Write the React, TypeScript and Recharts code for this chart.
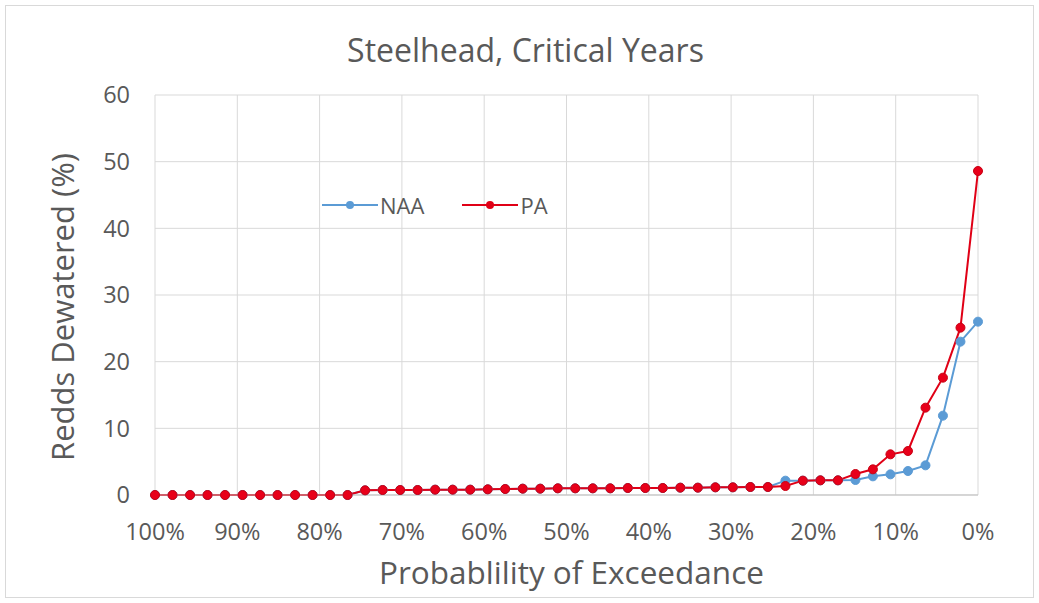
import { LineChart, Line, XAxis, YAxis, CartesianGrid, Legend } from "recharts";

// exceedance probability (%) for each ranked year, 100% down to 0%
const exceedance = [
  100, 97.87, 95.74, 93.62, 91.49, 89.36, 87.23, 85.11, 82.98, 80.85, 78.72, 76.6,
  74.47, 72.34, 70.21, 68.09, 65.96, 63.83, 61.7, 59.57, 57.45, 55.32, 53.19, 51.06,
  48.94, 46.81, 44.68, 42.55, 40.43, 38.3, 36.17, 34.04, 31.91, 29.79, 27.66, 25.53,
  23.4, 21.28, 19.15, 17.02, 14.89, 12.77, 10.64, 8.51, 6.38, 4.26, 2.13, 0,
];

const naa = [
  0, 0, 0, 0, 0, 0, 0, 0, 0, 0, 0, 0,
  0.7, 0.75, 0.75, 0.75, 0.8, 0.8, 0.8, 0.85, 0.9, 0.95, 0.95, 1.0,
  1.0, 1.0, 1.0, 1.05, 1.05, 1.05, 1.1, 1.1, 1.15, 1.15, 1.2, 1.2,
  2.15, 2.15, 2.2, 2.2, 2.25, 2.8, 3.1, 3.6, 4.45, 11.9, 23.0, 26.0,
];

const pa = [
  0, 0, 0, 0, 0, 0, 0, 0, 0, 0, 0, 0,
  0.7, 0.75, 0.75, 0.75, 0.8, 0.8, 0.8, 0.85, 0.9, 0.95, 0.95, 1.0,
  1.0, 1.0, 1.0, 1.05, 1.05, 1.05, 1.1, 1.1, 1.15, 1.15, 1.2, 1.2,
  1.35, 2.15, 2.2, 2.2, 3.15, 3.85, 6.1, 6.6, 13.1, 17.6, 25.1, 48.6,
];

const xTicks = [100, 90, 80, 70, 60, 50, 40, 30, 20, 10, 0];
const yTicks = [0, 10, 20, 30, 40, 50, 60];

const data = exceedance.map((p, i) => ({ p, NAA: naa[i], PA: pa[i] }));

const FONT = "'Open Sans', 'DejaVu Sans', sans-serif";
const TEXT = "#595959";

const LegendBox = ({ payload }: any) => (
  <div style={{ display: "flex", gap: 38, fontFamily: FONT, fontSize: 22, color: TEXT }}>
    {(payload || []).map((item: any) => (
      <div key={item.value} style={{ display: "flex", alignItems: "center" }}>
        <svg width={56} height={14}>
          <line x1={0} y1={7} x2={56} y2={7} stroke={item.color} strokeWidth={2} />
          <circle cx={28} cy={7} r={4} fill={item.color} />
        </svg>
        <span style={{ marginLeft: 2 }}>{item.value}</span>
      </div>
    ))}
  </div>
);

export default function App() {
  return (
    <div style={{ position: "absolute", left: 0, top: 0, width: 1039, height: 603, background: "#fff" }}>
      <div
        style={{
          position: "absolute", left: 5, top: 5, width: 1027, height: 591,
          border: "1px solid #d9d9d9",
        }}
      />
      <div
        style={{
          position: "absolute", left: 6, width: 1039, top: 28, textAlign: "center",
          fontFamily: FONT, fontSize: 32, color: TEXT,
        }}
      >
        Steelhead, Critical Years
      </div>
      <div
        style={{
          position: "absolute", left: 160, width: 823, top: 550, textAlign: "center",
          fontFamily: FONT, fontSize: 31.5, color: TEXT,
        }}
      >
        Probablility of Exceedance
      </div>
      <div
        style={{
          position: "absolute", left: 62, top: 307, width: 400, textAlign: "center",
          fontFamily: FONT, fontSize: 31, color: TEXT, whiteSpace: "nowrap",
          transform: "translate(-50%, -50%) rotate(-90deg)",
        }}
      >
        Redds Dewatered (%)
      </div>
      <LineChart
        width={1039}
        height={603}
        data={data}
        margin={{ top: 95, right: 61, bottom: 78, left: 95 }}
        style={{ position: "absolute", left: 0, top: 0 }}
      >
        <CartesianGrid stroke="#d9d9d9" strokeWidth={1} />
        <XAxis
          dataKey="p"
          type="number"
          domain={[0, 100]}
          reversed
          ticks={xTicks}
          tickFormatter={(v) => `${v}%`}
          height={30}
          tickSize={0}
          tickMargin={28}
          axisLine={{ stroke: "#bfbfbf" }}
          tick={{ fontSize: 23.5, fill: TEXT, fontFamily: FONT }}
          interval={0}
        />
        <YAxis
          type="number"
          domain={[0, 60]}
          ticks={yTicks}
          width={60}
          tickSize={0}
          tickMargin={25}
          axisLine={false}
          tick={{ fontSize: 23.5, fill: TEXT, fontFamily: FONT }}
        />
        <Legend
          verticalAlign="middle"
          align="center"
          wrapperStyle={{ left: 322, top: 190, width: 300 }}
          content={<LegendBox />}
        />
        <Line
          dataKey="NAA"
          stroke="#5b9bd5"
          strokeWidth={2}
          dot={{ r: 4.5, fill: "#5b9bd5", stroke: "#5b9bd5", strokeWidth: 1 }}
          isAnimationActive={false}
        />
        <Line
          dataKey="PA"
          stroke="#e00016"
          strokeWidth={2}
          dot={{ r: 4.5, fill: "#e8001a", stroke: "#c80012", strokeWidth: 1 }}
          isAnimationActive={false}
        />
      </LineChart>
    </div>
  );
}
